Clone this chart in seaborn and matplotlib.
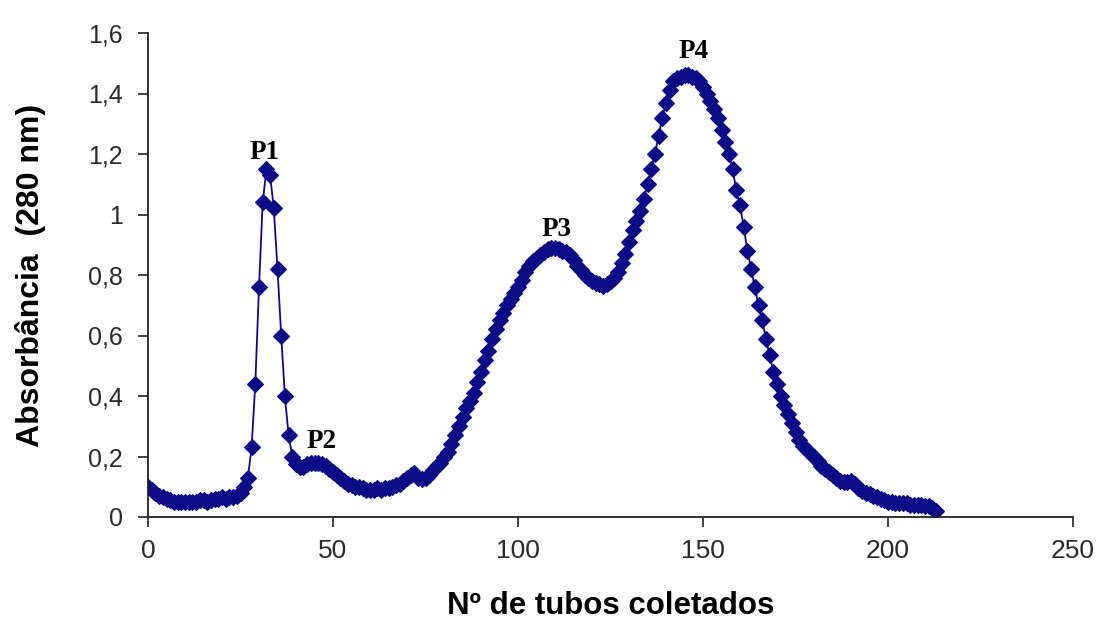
import matplotlib
matplotlib.use("Agg")
import matplotlib.pyplot as plt
import seaborn as sns
import pandas as pd
import numpy as np
from matplotlib.ticker import FuncFormatter

# Tube numbers and absorbance values
tubes = list(range(0, 214))
absorbance = [
    0.10, 0.09, 0.08, 0.07, 0.065, 0.06, 0.055, 0.05, 0.05, 0.05,
    0.05, 0.05, 0.05, 0.05, 0.055, 0.055, 0.05, 0.055, 0.06, 0.06,
    0.065, 0.06, 0.065, 0.065, 0.07, 0.08, 0.10, 0.13, 0.23, 0.44,
    0.76, 1.04, 1.15, 1.13, 1.02, 0.82, 0.60, 0.40, 0.27, 0.20,
    0.175, 0.165, 0.165, 0.175, 0.18, 0.18, 0.18, 0.175, 0.17, 0.16,
    0.15, 0.14, 0.13, 0.12, 0.11, 0.105, 0.10, 0.10, 0.095, 0.09,
    0.09, 0.09, 0.095, 0.09, 0.095, 0.095, 0.10, 0.105, 0.11, 0.12,
    0.13, 0.14, 0.145, 0.13, 0.125, 0.13, 0.14, 0.155, 0.17, 0.18,
    0.20, 0.215, 0.24, 0.27, 0.30, 0.33, 0.36, 0.385, 0.41, 0.445,
    0.48, 0.52, 0.55, 0.59, 0.62, 0.65, 0.675, 0.70, 0.72, 0.74,
    0.76, 0.785, 0.81, 0.83, 0.845, 0.855, 0.865, 0.875, 0.885, 0.89,
    0.89, 0.885, 0.88, 0.875, 0.865, 0.85, 0.83, 0.815, 0.80, 0.79,
    0.78, 0.775, 0.77, 0.765, 0.77, 0.78, 0.79, 0.81, 0.84, 0.87,
    0.91, 0.95, 0.98, 1.01, 1.05, 1.10, 1.15, 1.20, 1.26, 1.32,
    1.37, 1.41, 1.44, 1.45, 1.455, 1.46, 1.46, 1.455, 1.45, 1.44,
    1.42, 1.40, 1.375, 1.35, 1.32, 1.28, 1.24, 1.20, 1.15, 1.08,
    1.03, 0.96, 0.88, 0.82, 0.76, 0.70, 0.65, 0.59, 0.535, 0.48,
    0.44, 0.40, 0.37, 0.34, 0.31, 0.28, 0.255, 0.235, 0.22, 0.21,
    0.20, 0.185, 0.17, 0.16, 0.15, 0.14, 0.13, 0.12, 0.115, 0.115,
    0.12, 0.11, 0.095, 0.085, 0.08, 0.075, 0.07, 0.065, 0.06, 0.055,
    0.05, 0.05, 0.045, 0.045, 0.045, 0.045, 0.04, 0.04, 0.04, 0.04,
    0.035, 0.035, 0.03, 0.02,
]

peak_labels = ["P1", "P2", "P3", "P4"]
peak_x = [31.4, 47.0, 110.3, 147.6]
peak_y = [1.205, 0.25, 0.95, 1.54]

x_ticks = [0, 50, 100, 150, 200, 250]
y_ticks = [0, 0.2, 0.4, 0.6, 0.8, 1.0, 1.2, 1.4, 1.6]

x_label = "Nº de tubos coletados"
y_label = "Absorbância  (280 nm)"

df = pd.DataFrame({"tubo": tubes, "abs": absorbance})

sns.set_style("white")
plt.rcParams["font.family"] = ["Liberation Sans", "DejaVu Sans"]

fig = plt.figure(figsize=(10.99, 6.24), dpi=100)
ax = fig.add_axes([148 / 1099, 1 - 517 / 624, (1073 - 148) / 1099, (517 - 33) / 624])

color = "#0b0b88"
sns.lineplot(data=df, x="tubo", y="abs", ax=ax, color=color, linewidth=1.3,
             marker="D", markersize=7.8, markeredgecolor=color,
             markerfacecolor=color, markeredgewidth=0.8)

ax.set_xlim(0, 250)
ax.set_ylim(0, 1.6)
ax.set_xticks(x_ticks)
ax.set_yticks(y_ticks)


def fmt(v, pos):
    s = ("%.1f" % v)
    if s.endswith(".0"):
        s = s[:-2]
    return s.replace(".", ",")


ax.yaxis.set_major_formatter(FuncFormatter(fmt))

for side in ["top", "right"]:
    ax.spines[side].set_visible(False)
for side in ["left", "bottom"]:
    ax.spines[side].set_color("#222222")
    ax.spines[side].set_linewidth(1.3)

ax.tick_params(axis="both", which="major", direction="out", length=7,
               width=1.2, color="#222222", labelcolor="#2a2a2a",
               bottom=True, left=True)
ax.tick_params(axis="x", labelsize=19, pad=9)
ax.tick_params(axis="y", labelsize=18, pad=11)

ax.set_xlabel(x_label, fontsize=22.5, fontweight="bold", labelpad=20,
              color="black")
ax.set_ylabel(y_label, fontsize=23, fontweight="bold", labelpad=30,
              color="black")

for lab, px, py in zip(peak_labels, peak_x, peak_y):
    ax.text(px, py, lab, ha="center", va="center", fontsize=19.5,
            fontweight="bold", family=["Liberation Serif", "DejaVu Serif"],
            color="black")

fig.savefig("out.png", dpi=100)
